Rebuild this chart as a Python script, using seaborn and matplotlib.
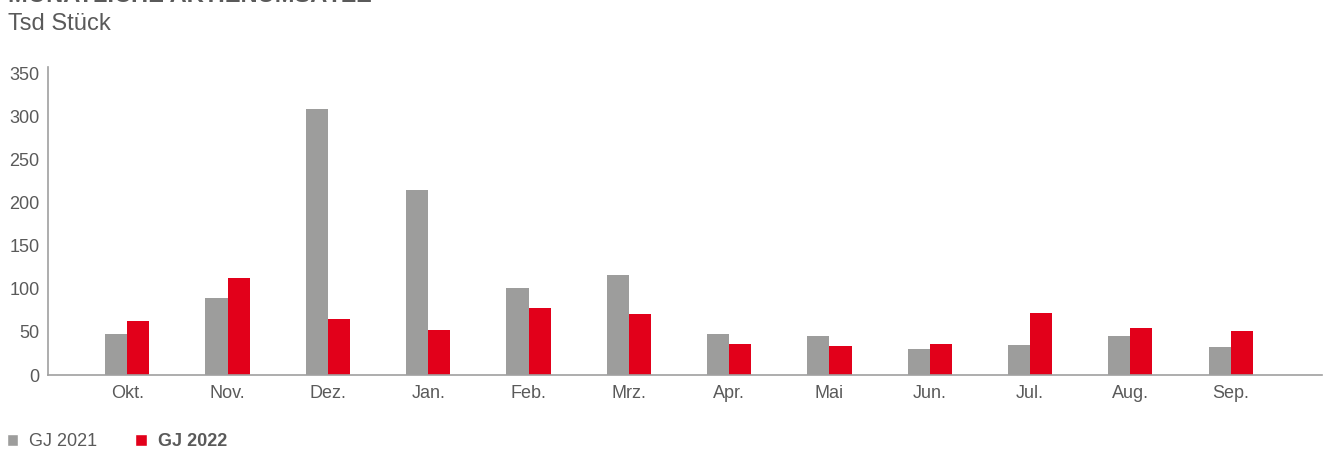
"""
Monatliche Aktienumsätze, GJ 2021 vs. GJ 2022
"""
import matplotlib
matplotlib.use("Agg")
import matplotlib.pyplot as plt
from matplotlib.patches import Patch
import pandas as pd
import seaborn as sns

# data (Tsd Stück)
months = ["Okt.", "Nov.", "Dez.", "Jan.", "Feb.", "Mrz.",
          "Apr.", "Mai", "Jun.", "Jul.", "Aug.", "Sep."]
gj2021 = [48, 89, 308, 215, 101, 116, 48, 45, 30, 35, 45, 32]
gj2022 = [63, 112, 65, 52, 78, 71, 36, 34, 36, 72, 54, 51]
series = ["GJ 2021", "GJ 2022"]
yticks = [0, 50, 100, 150, 200, 250, 300, 350]

GRAY = "#9d9d9c"
RED = "#e2001a"
TEXT = "#5a5a5a"

df = pd.DataFrame({
    "Monat": months * 2,
    "Wert": gj2021 + gj2022,
    "GJ": [series[0]] * len(months) + [series[1]] * len(months),
})

sns.set_style("white")
plt.rcParams["font.family"] = ["Liberation Sans", "DejaVu Sans"]

fig = plt.figure(figsize=(13.26, 4.53), dpi=100)
ax = fig.add_axes([0.0362, 0.172, 0.9608, 0.68])

sns.barplot(data=df, x="Monat", y="Wert", hue="GJ", order=months,
            hue_order=series, palette=[GRAY, RED], width=0.44,
            saturation=1, linewidth=0, legend=False, ax=ax)

ax.set_xlim(-0.79, 11.91)
ax.set_ylim(0, 357)
ax.set_yticks(yticks)
ax.set_xlabel("")
ax.set_ylabel("")
ax.tick_params(axis="both", length=0, labelsize=13, colors=TEXT)
ax.tick_params(axis="x", pad=7)
ax.tick_params(axis="y", pad=6)
for side in ["top", "right"]:
    ax.spines[side].set_visible(False)
for side in ["left", "bottom"]:
    ax.spines[side].set_color("#a0a0a0")
    ax.spines[side].set_linewidth(1.2)

# header (title is cut off at the top edge in the original)
fig.text(0.006, 1 - 1.5 / 453, "MONATLICHE AKTIENUMSÄTZE", fontsize=17,
         fontweight="bold", color=TEXT, va="baseline", ha="left")
fig.text(0.006, 1 - 30 / 453, "Tsd Stück", fontsize=17, color=TEXT,
         va="baseline", ha="left")

handles = [Patch(facecolor=GRAY, label=series[0]),
           Patch(facecolor=RED, label=series[1])]
leg = fig.legend(handles=handles, loc="lower left", bbox_to_anchor=(0.003, 0.0),
                 ncol=2, frameon=False, fontsize=13, handlelength=0.65,
                 handleheight=0.65, handletextpad=0.6, columnspacing=2.1,
                 borderaxespad=0.0, borderpad=0.15)
for t in leg.get_texts():
    t.set_color(TEXT)
leg.get_texts()[1].set_fontweight("bold")

plt.savefig("out.png", dpi=100)
